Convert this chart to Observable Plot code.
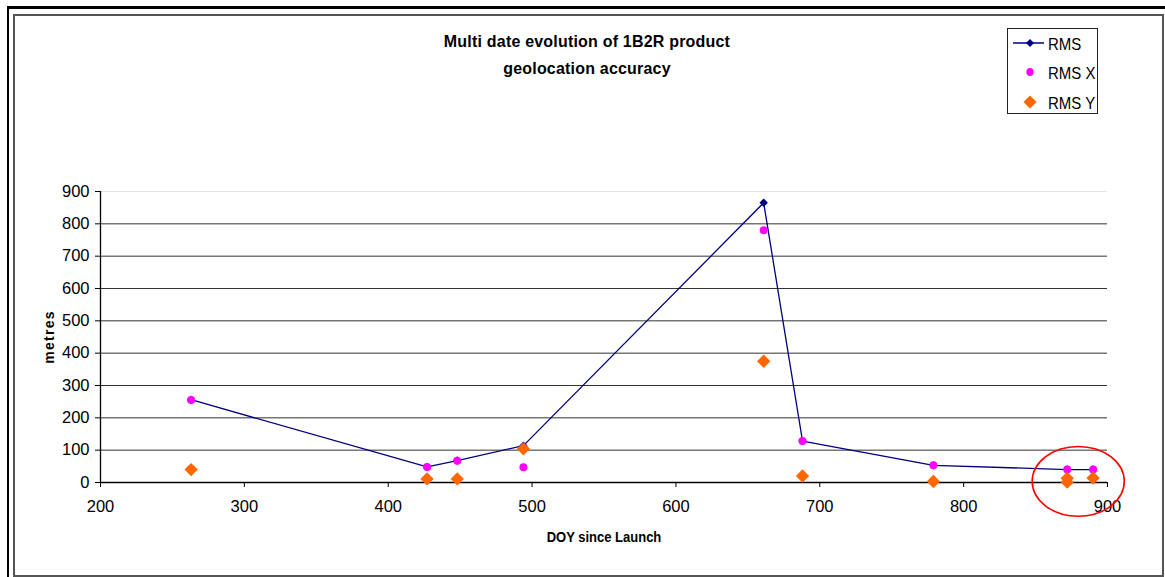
<!DOCTYPE html>
<html>
<head>
<meta charset="utf-8">
<script src="https://cdn.jsdelivr.net/npm/d3@7"></script>
<script src="https://cdn.jsdelivr.net/npm/@observablehq/plot@0.6"></script>
<style>
  html, body { margin: 0; padding: 0; background: #fff; }
  #wrap { position: relative; width: 1165px; height: 577px; overflow: hidden; font-family: "Liberation Sans", Arial, sans-serif; color: #000; }
  .outer { position: absolute; left: 7px; top: 6px; width: 1170px; height: 600px; border-top: 3px solid #000; border-left: 2px solid #000; }
  .inner { position: absolute; left: 13px; top: 14px; width: 1147px; height: 559px; border: 2px solid #555; }
  #title { position: absolute; left: 387px; width: 400px; top: 30px; text-align: center; font-weight: bold; font-size: 16px; letter-spacing: 0.2px; line-height: 25px; transform: scaleY(1.08); }
  #ylab { position: absolute; left: 49px; top: 337px; transform: translate(-50%, -50%) rotate(-90deg); font-weight: bold; font-size: 14px; letter-spacing: 1.3px; white-space: nowrap; }
  #xlab { position: absolute; left: 604px; top: 537px; transform: translate(-50%, -50%) scaleY(1.1); font-weight: bold; font-size: 13px; white-space: nowrap; }
  #legend { position: absolute; left: 1007px; top: 28px; width: 89px; height: 84px; border: 1.5px solid #222; background: #fff; }
  .lrow { position: absolute; left: 0; height: 20px; display: flex; align-items: center; font-size: 15px; }
  .lrow svg { width: 38px; height: 20px; margin-left: 3px; }
  .lrow span { margin-left: -1px; transform: scaleY(1.1); }
  #chart { position: absolute; left: 0; top: 0; }
</style>
</head>
<body>
<div id="wrap">
  <div class="outer"></div>
  <div class="inner"></div>
  <div id="chart"></div>
  <div id="title">Multi date evolution of 1B2R product<br>geolocation accuracy</div>
  <div id="ylab">metres</div>
  <div id="xlab">DOY since Launch</div>
  <div id="legend"></div>
</div>
<script>
// ---- data ----
const doy   = [263, 427, 448, 494, 661, 688, 779, 872, 890];
const rms   = [256, 48, 68, 114, 865, 128, 53, 40, 40];
const rmsX  = [255, 48, 67, 47, 780, 128, 53, 40, 40];
const doyY  = [263, 427, 448, 494, 661, 688, 779, 872, 872, 890];
const rmsY  = [40, 11, 11, 104, 375, 20, 3, 13, 1, 14];
const xTicks = [200, 300, 400, 500, 600, 700, 800, 900];
const yTicks = [0, 100, 200, 300, 400, 500, 600, 700, 800, 900];
const gridY  = [100, 200, 300, 400, 500, 600, 700, 800];
const seriesNames = ["RMS", "RMS X", "RMS Y"];
const colors = { rms: "#000080", rmsX: "#ff00ff", rmsY: "#ff6600" };
// annotation: highlighted region (data units)
const highlight = { x: 880, y: 2, rx: 32, ry: 108 };

const rmsData  = doy.map((d, i) => ({ doy: d, v: rms[i] }));
const rmsXData = doy.map((d, i) => ({ doy: d, v: rmsX[i] }));
const rmsYData = doyY.map((d, i) => ({ doy: d, v: rmsY[i] }));

const plot = Plot.plot({
  width: 1165,
  height: 577,
  marginLeft: 100,
  marginRight: 58,
  marginTop: 191,
  marginBottom: 95,
  x: { domain: [200, 900] },
  y: { domain: [0, 900] },
  style: { fontFamily: "'Liberation Sans', Arial, sans-serif", fontSize: "16.5px", background: "transparent", color: "#000" },
  marks: [
    Plot.ruleY([900], { stroke: "#e4e4e4", strokeWidth: 1 }),
    Plot.ruleY(gridY, { stroke: "#333", strokeWidth: 1 }),
    Plot.axisX({ ticks: xTicks, tickSize: 5, tickPadding: 13, label: null, tickFormat: d => String(d), stroke: "#000" }),
    Plot.axisY({ ticks: yTicks, tickSize: 5, tickPadding: 6, label: null, tickFormat: d => String(d), stroke: "#000" }),
    Plot.ruleY([0], { stroke: "#000", strokeWidth: 1.3 }),
    Plot.ruleX([200], { stroke: "#000", strokeWidth: 1.3 }),
    Plot.line(rmsData, { x: "doy", y: "v", stroke: colors.rms, strokeWidth: 1.3 }),
    Plot.dot(rmsData, { x: "doy", y: "v", symbol: "diamond2", r: 3.8, fill: colors.rms, stroke: "none" }),
    Plot.dot(rmsXData, { x: "doy", y: "v", symbol: "circle", r: 4, fill: colors.rmsX, stroke: "none" }),
    Plot.dot(rmsYData, { x: "doy", y: "v", symbol: "diamond2", r: 6, fill: colors.rmsY, stroke: "none" })
  ]
});
document.getElementById("chart").appendChild(plot);

// highlight ellipse positioned through the plot's own scales
const sx = plot.scale("x"), sy = plot.scale("y");
const cx = sx.apply(highlight.x), cy = sy.apply(highlight.y);
const rxPx = Math.abs(sx.apply(highlight.x + highlight.rx) - cx);
const ryPx = Math.abs(sy.apply(highlight.y + highlight.ry) - cy);
d3.select(plot).append("ellipse")
  .attr("cx", cx).attr("cy", cy).attr("rx", rxPx).attr("ry", ryPx)
  .attr("fill", "none").attr("stroke", "#ff0000").attr("stroke-width", 1.6);

// legend
const legend = document.getElementById("legend");
const rowsY = [4, 33, 63];
seriesNames.forEach((name, i) => {
  const row = document.createElement("div");
  row.className = "lrow";
  row.style.top = rowsY[i] + "px";
  let sw = "";
  if (i === 0) sw = `<line x1="2" x2="33" y1="10" y2="10" stroke="${colors.rms}" stroke-width="1.5"/><path d="M19 6 L23 10 L19 14 L15 10 Z" fill="${colors.rms}"/>`;
  if (i === 1) sw = `<ellipse cx="19" cy="10" rx="3.6" ry="4" fill="${colors.rmsX}"/>`;
  if (i === 2) sw = `<path d="M19 3.5 L25.5 10 L19 16.5 L12.5 10 Z" fill="${colors.rmsY}"/>`;
  row.innerHTML = `<svg viewBox="0 0 38 20">${sw}</svg><span>${name}</span>`;
  legend.appendChild(row);
});
</script>
</body>
</html>
